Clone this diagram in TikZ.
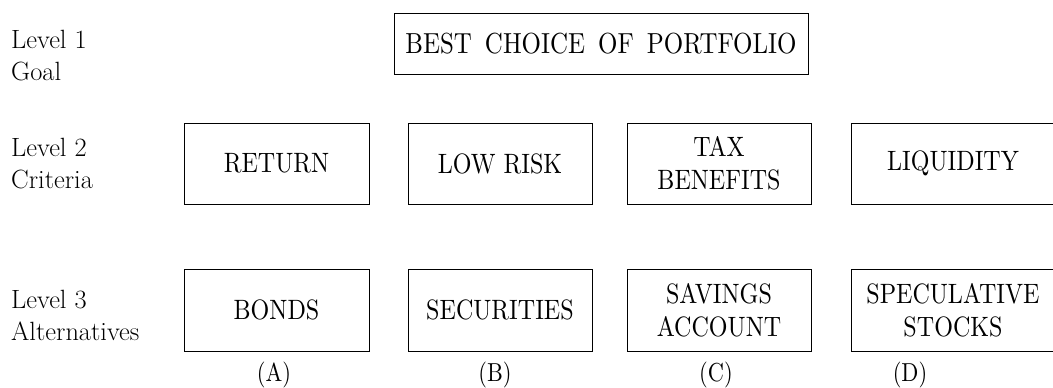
\documentclass[tikz,border=0pt]{standalone}
\usepackage{fontspec}
\newfontfamily\boxfont[FakeStretch=0.86]{lmroman10-regular.otf}
\begin{document}
\begin{tikzpicture}[x=1pt,y=-1pt,
  box/.style={draw, line width=0.9pt, rectangle, inner sep=0pt, align=center,
    font=\boxfont\fontsize{28}{33}\selectfont},
  lvl/.style={anchor=base west, inner sep=0pt, font=\fontsize{26.4}{32}\selectfont},
  tag/.style={inner sep=0pt, font=\boxfont\fontsize{26}{30}\selectfont}]
\useasboundingbox (0,0) rectangle (1053,388);
\clip (0,0) rectangle (1053,388);
% level labels
\node[lvl] (l1) at (11,48) {Level 1};
\node[lvl] (l1b) at (11,80) {Goal};
\node[lvl] (l2) at (11,156) {Level 2};
\node[lvl] (l2b) at (11,188) {Criteria};
\node[lvl] (l3) at (11,308) {Level 3};
\node[lvl] (l3b) at (11,340) {Alternatives};
% goal
\node[box, minimum width=414pt, minimum height=61pt, font=\boxfont\fontsize{29}{33}\selectfont]
  (goal) at (601,43.5) {BEST\hspace{0.45em}CHOICE\hspace{0.45em}OF\hspace{0.45em}PORTFOLIO};
% criteria
\node[box, minimum width=185pt, minimum height=81pt] (c1) at (276.5,163.5) {RETURN};
\node[box, minimum width=184pt, minimum height=81pt] (c2) at (500,163.5) {LOW RISK};
\node[box, minimum width=184pt, minimum height=81pt] (c3) at (719,163.5) {TAX\\BENEFITS};
\node[box, minimum width=204pt, minimum height=81pt] (c4) at (953,163.5) {LIQUIDITY};
% alternatives
\node[box, minimum width=185pt, minimum height=82pt] (a1) at (276.5,310) {BONDS};
\node[box, minimum width=184pt, minimum height=82pt] (a2) at (500,310) {SECURITIES};
\node[box, minimum width=184pt, minimum height=82pt] (a3) at (719,310) {SAVINGS\\ACCOUNT};
\node[box, minimum width=204pt, minimum height=82pt] (a4) at (953,310) {SPECULATIVE\\STOCKS};
% tags
\node[tag] (ta) at (274,375) {(A)};
\node[tag] (tb) at (495,375) {(B)};
\node[tag] (tc) at (716,375) {(C)};
\node[tag] (td) at (910,375) {(D)};
\end{tikzpicture}
\end{document}
